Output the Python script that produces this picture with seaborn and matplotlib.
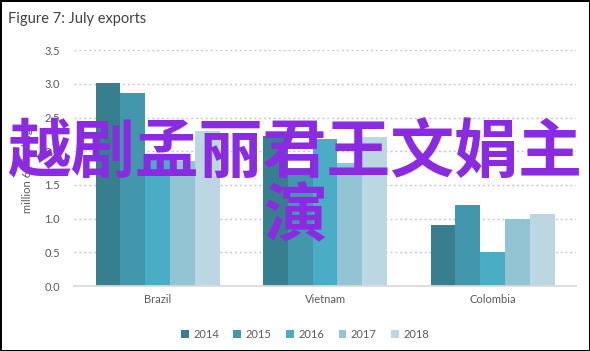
import matplotlib
matplotlib.use("Agg")
import matplotlib.pyplot as plt
import seaborn as sns
import pandas as pd

# Chart data
countries = ["Brazil", "Vietnam", "Colombia"]
years = ["2014", "2015", "2016", "2017", "2018"]
brazil = [3.01, 2.87, 1.95, 1.86, 2.30]
vietnam = [2.22, 1.75, 2.18, 1.82, 2.21]
colombia = [0.90, 1.21, 0.50, 1.00, 1.07]
y_ticks = [0.0, 0.5, 1.0, 1.5, 2.0, 2.5, 3.0, 3.5]
colors = ["#377F8F", "#4397AC", "#4BACC6", "#93C4D4", "#BAD7E2"]

rows = []
for country, vals in zip(countries, [brazil, vietnam, colombia]):
    for year, v in zip(years, vals):
        rows.append({"Country": country, "Year": year, "Value": v})
df = pd.DataFrame(rows)

sns.set_theme(style="white")
plt.rcParams["font.family"] = ["Lato", "DejaVu Sans"]

fig = plt.figure(figsize=(5.9, 3.51), dpi=100, linewidth=2, edgecolor="black")
ax = fig.add_axes([0.125, 0.185, 0.852, 0.672])

sns.barplot(data=df, x="Country", y="Value", hue="Year", palette=colors,
            width=0.74, gap=0, saturation=1, linewidth=0, ax=ax, legend=True)

# Axes styling
ax.set_ylim(0, 3.5)
ax.set_xlim(-0.5, 2.5)
ax.set_yticks(y_ticks)
ax.set_yticklabels([f"{t:.1f}" for t in y_ticks], fontsize=8, color="#595959")
ax.tick_params(axis="x", labelsize=8, colors="#595959", length=0, pad=6)
ax.tick_params(axis="y", length=0, pad=10)
ax.yaxis.grid(True, linestyle=(0, (1.5, 2)), color="#C8C8C8", linewidth=1)
ax.set_axisbelow(True)
for side in ["top", "right", "left"]:
    ax.spines[side].set_visible(False)
ax.spines["bottom"].set_color("#D9D9D9")
ax.set_xlabel("")
ax.set_ylabel("million 60-kg bags", fontsize=8, color="#595959", labelpad=8)

# Legend below the axes
leg = ax.legend(loc="upper center", bbox_to_anchor=(0.46, -0.14), ncol=5,
                frameon=False, fontsize=8, handlelength=0.7, handleheight=0.7,
                handletextpad=0.4, columnspacing=1.3)
for t in leg.get_texts():
    t.set_color("#595959")

fig.text(0.014, 0.945, "Figure 7: July exports", fontsize=10.5, color="#404040",
         ha="left", va="center")

# Overlay caption
fig.text(0.5, 0.47, "越剧孟丽君王文娟主\n演", fontsize=46, color="#8A2BE2",
         fontweight="bold", ha="center", va="center", linespacing=0.95,
         family=["Noto Sans CJK SC", "DejaVu Sans"])

fig.savefig("out.png", dpi=100)
